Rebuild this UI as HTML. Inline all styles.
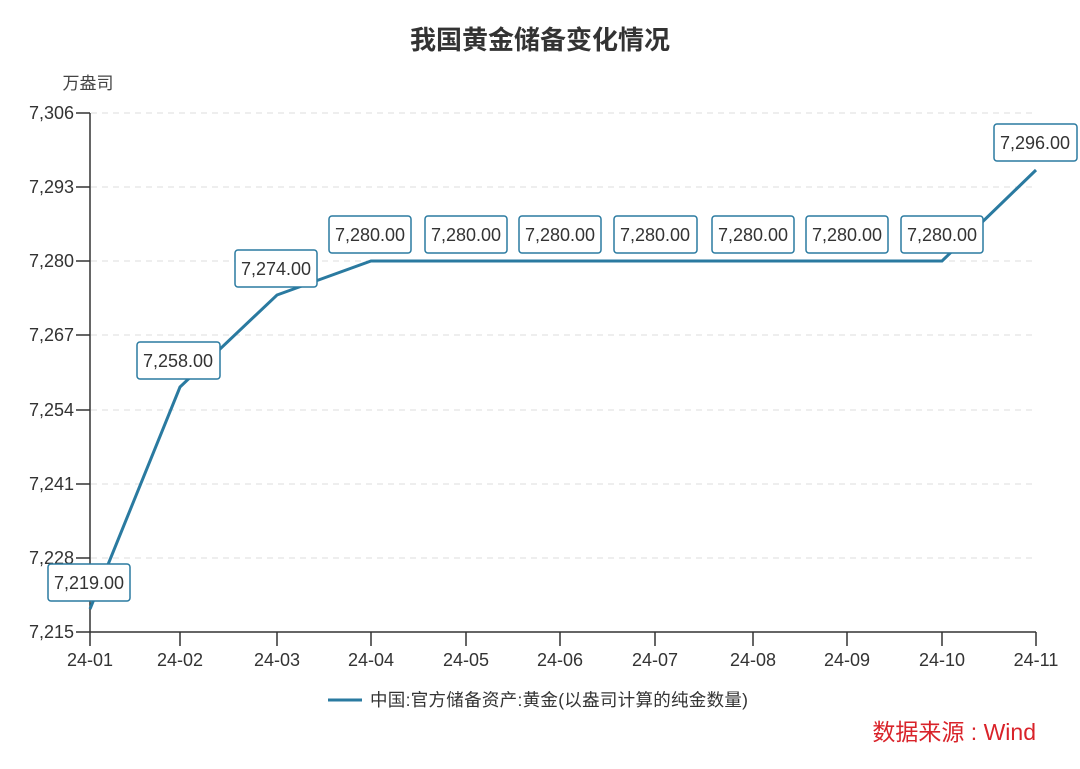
<!DOCTYPE html><html><head><meta charset="utf-8"><style>body{margin:0;background:#fff}</style></head><body>
<svg width="1080" height="764" xmlns="http://www.w3.org/2000/svg" font-family="Liberation Sans, Noto Sans CJK SC, sans-serif">
<text x="540" y="49" text-anchor="middle" font-size="26" font-weight="bold" fill="#333">我国黄金储备变化情况</text>
<text x="88" y="89" text-anchor="middle" font-size="17" fill="#444">万盎司</text>
<g stroke="#ddd" stroke-dasharray="6,5" stroke-width="1">
<line x1="91" x2="1036" y1="113" y2="113"/><line x1="91" x2="1036" y1="187" y2="187"/><line x1="91" x2="1036" y1="261" y2="261"/><line x1="91" x2="1036" y1="335" y2="335"/><line x1="91" x2="1036" y1="410" y2="410"/><line x1="91" x2="1036" y1="484" y2="484"/><line x1="91" x2="1036" y1="558" y2="558"/>
</g>
<g stroke="#333" stroke-width="1.5">
<line x1="90" y1="113" x2="90" y2="632"/><line x1="90" y1="632" x2="1036" y2="632"/>
<line x1="76" x2="90" y1="113" y2="113"/><line x1="76" x2="90" y1="187" y2="187"/><line x1="76" x2="90" y1="261" y2="261"/><line x1="76" x2="90" y1="335" y2="335"/><line x1="76" x2="90" y1="410" y2="410"/><line x1="76" x2="90" y1="484" y2="484"/><line x1="76" x2="90" y1="558" y2="558"/><line x1="76" x2="90" y1="632" y2="632"/>
<line x1="90" x2="90" y1="632" y2="646"/><line x1="180" x2="180" y1="632" y2="646"/><line x1="277" x2="277" y1="632" y2="646"/><line x1="371" x2="371" y1="632" y2="646"/><line x1="466" x2="466" y1="632" y2="646"/><line x1="560" x2="560" y1="632" y2="646"/><line x1="655" x2="655" y1="632" y2="646"/><line x1="753" x2="753" y1="632" y2="646"/><line x1="847" x2="847" y1="632" y2="646"/><line x1="942" x2="942" y1="632" y2="646"/><line x1="1036" x2="1036" y1="632" y2="646"/>
</g>
<g font-size="18" fill="#333" text-anchor="end">
<text x="74" y="119">7,306</text><text x="74" y="193">7,293</text><text x="74" y="267">7,280</text><text x="74" y="341">7,267</text><text x="74" y="416">7,254</text><text x="74" y="490">7,241</text><text x="74" y="564">7,228</text><text x="74" y="638">7,215</text>
</g>
<g font-size="18" fill="#333" text-anchor="middle">
<text x="90" y="666">24-01</text><text x="180" y="666">24-02</text><text x="277" y="666">24-03</text><text x="371" y="666">24-04</text><text x="466" y="666">24-05</text><text x="560" y="666">24-06</text><text x="655" y="666">24-07</text><text x="753" y="666">24-08</text><text x="847" y="666">24-09</text><text x="942" y="666">24-10</text><text x="1036" y="666">24-11</text>
</g>
<polyline fill="none" stroke="#2a7aa0" stroke-width="3" points="90,609 180,387 277,295 371,261 942,261 1036,170"/>
<g font-size="18" fill="#333" text-anchor="middle">
<g stroke="#2a7aa0" stroke-width="1.5" fill="#fff">
<rect x="48" y="564" width="82" height="37" rx="3"/><rect x="137" y="342" width="83" height="37" rx="3"/><rect x="235" y="250" width="82" height="37" rx="3"/><rect x="329" y="216" width="82" height="37" rx="3"/><rect x="425" y="216" width="82" height="37" rx="3"/><rect x="519" y="216" width="82" height="37" rx="3"/><rect x="614" y="216" width="83" height="37" rx="3"/><rect x="712" y="216" width="82" height="37" rx="3"/><rect x="806" y="216" width="82" height="37" rx="3"/><rect x="901" y="216" width="82" height="37" rx="3"/><rect x="994" y="124" width="83" height="37" rx="3"/>
</g>
<text x="89" y="589">7,219.00</text><text x="178" y="367">7,258.00</text><text x="276" y="275">7,274.00</text><text x="370" y="241">7,280.00</text><text x="466" y="241">7,280.00</text><text x="560" y="241">7,280.00</text><text x="655" y="241">7,280.00</text><text x="753" y="241">7,280.00</text><text x="847" y="241">7,280.00</text><text x="942" y="241">7,280.00</text><text x="1035" y="149">7,296.00</text>
</g>
<line x1="328" x2="362" y1="700" y2="700" stroke="#2a7aa0" stroke-width="3"/>
<text x="370" y="706" font-size="17.5" fill="#333" textLength="378">中国:官方储备资产:黄金(以盎司计算的纯金数量)</text>
<text x="1036" y="740" text-anchor="end" font-size="23" fill="#d9232a">数据来源 : Wind</text>
</svg></body></html>
